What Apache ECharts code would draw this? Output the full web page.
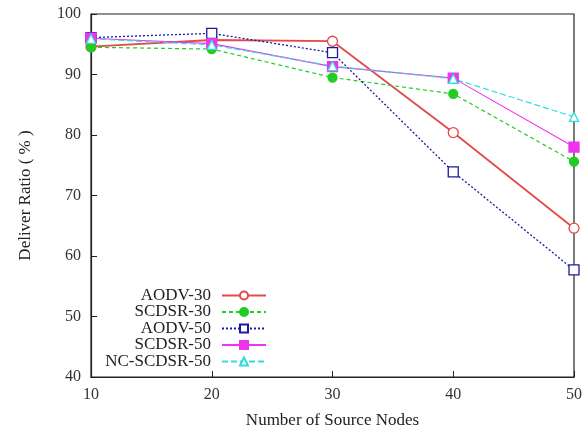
<!DOCTYPE html>
<html><head><meta charset="utf-8">
<script src="https://cdn.jsdelivr.net/npm/echarts@6/dist/echarts.min.js"></script>
<style>html,body{margin:0;padding:0;background:#fff}#c{width:582px;height:430px}</style>
</head><body><div id="c"></div>
<script>
const nodes = [10, 20, 30, 40, 50];
const aodv30 = [94.6, 95.7, 95.5, 80.4, 64.6];
const scdsr30 = [94.5, 94.2, 89.5, 86.8, 75.6];
const aodv50 = [96.1, 96.8, 93.6, 73.9, 57.7];
const scdsr50 = [96.0, 95.1, 91.3, 89.4, 78.0];
const ncscdsr50 = [95.9, 94.9, 91.4, 89.3, 83.0];
const yTicks = [40, 50, 60, 70, 80, 90, 100];

const font = 'Liberation Serif';
function pts(arr){ return nodes.map((x,i)=>[x, arr[i]]); }
function mk(name, arr, color, lineType, width, symbol, size, filled){
  return {
    name, type:'line', data: pts(arr),
    symbol, symbolSize: size,
    lineStyle:{color, width, type: lineType},
    itemStyle:{color: filled ? color : '#fff', borderColor: color, borderWidth: 1.3},
    emphasis:{disabled:true}
  };
}
const chart = echarts.init(document.getElementById('c'), null, {renderer:'canvas'});
chart.setOption({
  animation:false,
  backgroundColor:'#fff',
  grid:{left:91, right:8, top:14, bottom:53, outerBoundsMode:'none', containLabel:false,
    show:true, borderColor:'#222', borderWidth:1.2, backgroundColor:'transparent'},
  xAxis:{type:'value', min:10, max:50, interval:10,
    name:'Number of Source Nodes', nameLocation:'middle', nameGap:35,
    nameTextStyle:{fontFamily:font, fontSize:17, color:'#222'},
    axisLine:{show:true, lineStyle:{color:'#222', width:1.2}},
    axisTick:{show:true, inside:true, length:6, lineStyle:{color:'#222'}},
    axisLabel:{fontFamily:font, fontSize:16, color:'#333', margin:10},
    splitLine:{show:false}},
  yAxis:{type:'value', min:yTicks[0], max:yTicks[yTicks.length-1], interval:10,
    name:'Deliver Ratio ( % )', nameLocation:'middle', nameGap:57, nameRotate:90,
    nameTextStyle:{fontFamily:font, fontSize:17, color:'#222'},
    axisLine:{show:true, lineStyle:{color:'#222', width:1.2}},
    axisTick:{show:true, inside:true, length:6, lineStyle:{color:'#222'}},
    axisLabel:{fontFamily:font, fontSize:16, color:'#333', margin:10},
    splitLine:{show:false}},
  legend:{
    orient:'vertical', align:'right', right:315, top:287, padding:0,
    itemWidth:44, itemHeight:10, itemGap:-0.5,
    textStyle:{fontFamily:font, fontSize:17, lineHeight:15, color:'#222', padding:[0,6,0,0]},
    data:['AODV-30','SCDSR-30','AODV-50','SCDSR-50','NC-SCDSR-50']
  },
  series:[
    mk('AODV-30', aodv30, '#e34a4a', 'solid', 1.8, 'circle', 10, false),
    mk('SCDSR-30', scdsr30, '#22cc22', [4,3], 1.2, 'circle', 9, true),
    mk('AODV-50', aodv50, '#1a1aa0', [2,2], 1.3, 'rect', 10, false),
    mk('SCDSR-50', scdsr50, '#ee33ee', 'solid', 1.1, 'rect', 10, true),
    mk('NC-SCDSR-50', ncscdsr50, '#33dddd', [6,3], 1.2, 'triangle', 9, false)
  ]
});
</script></body></html>
